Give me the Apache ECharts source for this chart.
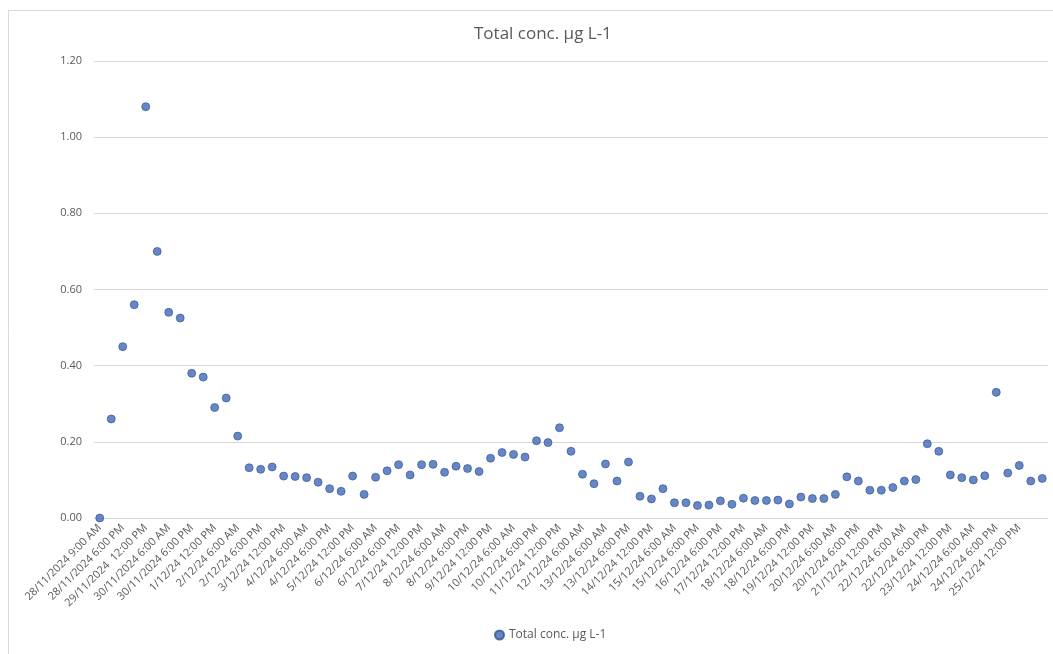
<!DOCTYPE html>
<html>
<head>
<meta charset="utf-8">
<script src="https://cdn.jsdelivr.net/npm/echarts@6/dist/echarts.min.js"></script>
<style>
  html, body { margin: 0; padding: 0; background: #fff; }
  #chart { width: 1053px; height: 654px; }
</style>
</head>
<body>
<div id="chart"></div>
<script>
  // sample times (every other one is shown on the axis)
  let categories = [
    '28/11/2024 9:00 AM', '28/11/2024 12:00 PM',
    '28/11/2024 6:00 PM', '29/11/2024 6:00 AM',
    '29/11/2024  12:00 PM', '29/11/2024 6:00 PM',
    '30/11/2024 6:00 AM', '30/11/2024 12:00 PM',
    '30/11/2024 6:00 PM', '1/12/24 6:00 AM',
    '1/12/24 12:00 PM', '1/12/24 6:00 PM',
    '2/12/24 6:00 AM', '2/12/24 12:00 PM',
    '2/12/24 6:00 PM', '3/12/24 6:00 AM',
    '3/12/24 12:00 PM', '3/12/24 6:00 PM',
    '4/12/24 6:00 AM', '4/12/24 12:00 PM',
    '4/12/24 6:00 PM', '5/12/24 6:00 AM',
    '5/12/24 12:00 PM', '5/12/24 6:00 PM',
    '6/12/24 6:00 AM', '6/12/24 12:00 PM',
    '6/12/24 6:00 PM', '7/12/24 6:00 AM',
    '7/12/24 12:00 PM', '7/12/24 6:00 PM',
    '8/12/24 6:00 AM', '8/12/24 12:00 PM',
    '8/12/24 6:00 PM', '9/12/24 6:00 AM',
    '9/12/24 12:00 PM', '9/12/24 6:00 PM',
    '10/12/24 6:00 AM', '10/12/24 12:00 PM',
    '10/12/24 6:00 PM', '11/12/24 6:00 AM',
    '11/12/24 12:00 PM', '11/12/24 6:00 PM',
    '12/12/24 6:00 AM', '12/12/24 6:00 PM',
    '13/12/24 6:00 AM', '13/12/24 12:00 PM',
    '13/12/24 6:00 PM', '14/12/24 6:00 AM',
    '14/12/24 12:00 PM', '14/12/24 6:00 PM',
    '15/12/24 6:00 AM', '15/12/24 12:00 PM',
    '15/12/24 6:00 PM', '16/12/24 6:00 AM',
    '16/12/24 6:00 PM', '17/12/24 6:00 AM',
    '17/12/24 12:00 PM', '17/12/24 6:00 PM',
    '18/12/24 6:00 AM', '18/12/24 12:00 PM',
    '18/12/24 6:00 PM', '19/12/24 6:00 AM',
    '19/12/24 12:00 PM', '19/12/24 6:00 PM',
    '20/12/24 6:00 AM', '20/12/24 12:00 PM',
    '20/12/24 6:00 PM', '21/12/24 6:00 AM',
    '21/12/24 12:00 PM', '21/12/24 6:00 PM',
    '22/12/24 6:00 AM', '22/12/24 12:00 PM',
    '22/12/24 6:00 PM', '23/12/24 6:00 AM',
    '23/12/24 12:00 PM', '23/12/24 6:00 PM',
    '24/12/24 6:00 AM', '24/12/24 12:00 PM',
    '24/12/24 6:00 PM', '25/12/24 6:00 AM',
    '25/12/24 12:00 PM', '25/12/24 6:00 PM',
    '26/12/24 6:00 AM'
  ];

  let totalConc = [
    0.00, 0.26, 0.45, 0.56, 1.08, 0.70, 0.54, 0.525, 0.38, 0.37,
    0.29, 0.315, 0.215, 0.132, 0.128, 0.134, 0.110, 0.109, 0.106, 0.094,
    0.077, 0.070, 0.110, 0.062, 0.107, 0.124, 0.140, 0.113, 0.140, 0.141,
    0.120, 0.136, 0.130, 0.122, 0.157, 0.172, 0.167, 0.160, 0.203, 0.198,
    0.237, 0.175, 0.115, 0.090, 0.142, 0.097, 0.147, 0.057, 0.050, 0.077,
    0.040, 0.040, 0.033, 0.034, 0.045, 0.036, 0.052, 0.046, 0.046, 0.047,
    0.037, 0.055, 0.051, 0.051, 0.062, 0.108, 0.097, 0.073, 0.073, 0.080,
    0.097, 0.101, 0.195, 0.175, 0.113, 0.106, 0.100, 0.111, 0.330, 0.118,
    0.138, 0.097, 0.104
  ];

  let yTicks = [0, 0.2, 0.4, 0.6, 0.8, 1.0, 1.2];
  let lastLabel = 80; // last category that gets a label on the axis

  let myChart = echarts.init(document.getElementById('chart'));
  let option = {
    backgroundColor: '#ffffff',
    textStyle: { fontFamily: 'Open Sans' },
    title: {
      text: 'Total conc. µg L-1',
      left: 469,
      top: 21,
      textStyle: { color: '#595959', fontSize: 17, fontWeight: 'normal' }
    },
    legend: {
      bottom: 8,
      left: 489,
      icon: 'circle',
      itemWidth: 9,
      itemHeight: 9,
      itemGap: 3,
      textStyle: { color: '#595959', fontSize: 12 }
    },
    graphic: [{
      // light frame round the chart area
      type: 'rect',
      shape: { x: 8.5, y: 10.5, width: 1100, height: 700 },
      style: { fill: 'none', stroke: '#d9d9d9', lineWidth: 1 },
      silent: true
    }],
    grid: { left: 94, right: 5, top: 61, bottom: 136 },
    xAxis: {
      type: 'category',
      data: categories,
      boundaryGap: true,
      axisLine: { show: false },
      axisTick: { show: false },
      axisLabel: {
        interval: function (i) { return i % 2 === 0 && i <= lastLabel; },
        rotate: 45,
        margin: 8,
        color: '#595959',
        fontSize: 11
      }
    },
    yAxis: {
      type: 'value',
      min: yTicks[0],
      max: yTicks[yTicks.length - 1],
      interval: 0.2,
      axisLine: { show: false },
      axisTick: { show: false },
      splitLine: { lineStyle: { color: '#d9d9d9', width: 1 } },
      axisLabel: {
        margin: 12,
        color: '#595959',
        fontSize: 11,
        formatter: function (v) { return v.toFixed(2); }
      }
    },
    series: [{
      name: 'Total conc. µg L-1',
      type: 'scatter',
      symbol: 'circle',
      symbolSize: 8,
      itemStyle: { color: '#4068B8', borderColor: '#2F528F', borderWidth: 0.8 },
      data: totalConc
    }]
  };
  myChart.setOption(option);
</script>
</body>
</html>
